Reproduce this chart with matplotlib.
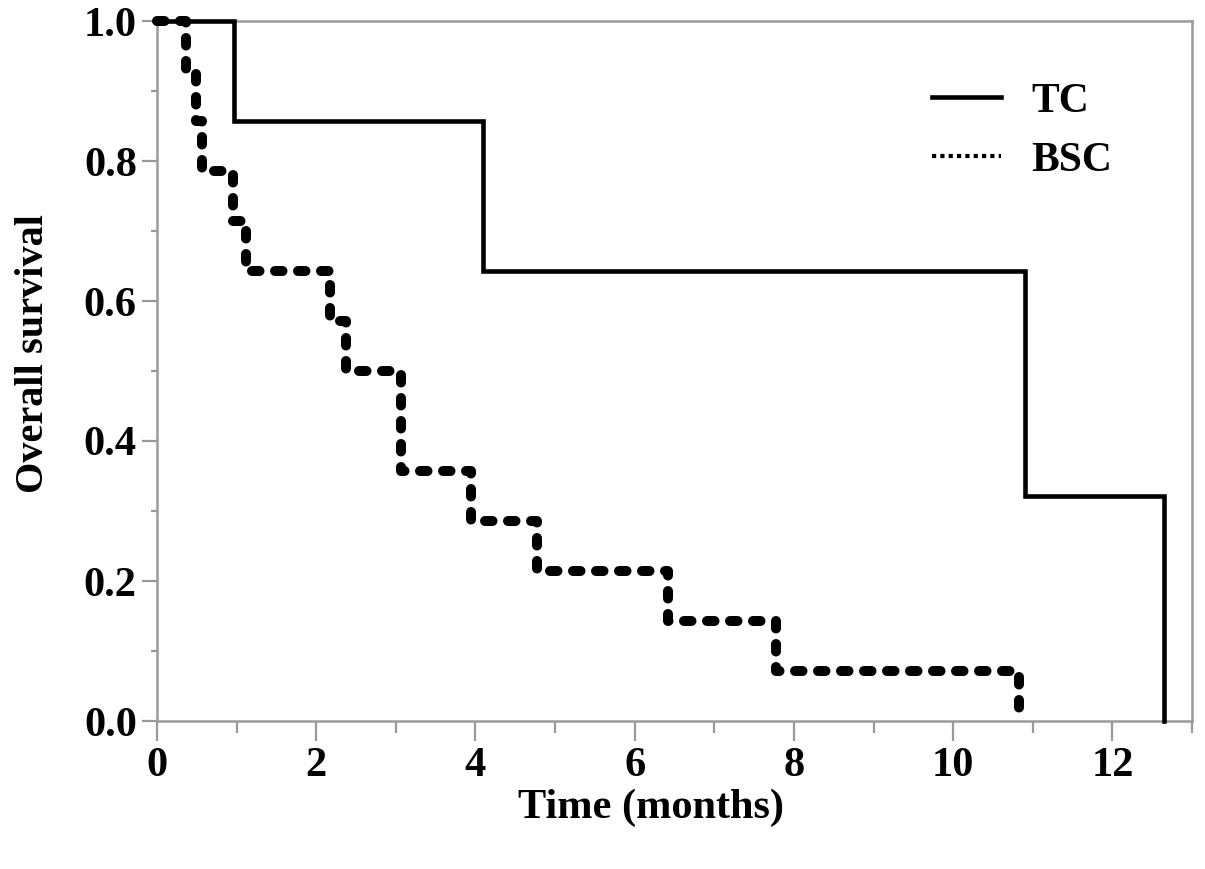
import matplotlib
matplotlib.use("Agg")
import matplotlib.pyplot as plt
from matplotlib.lines import Line2D

# Data (Kaplan-Meier step values)
tc_time = [0.0, 0.97, 4.10, 10.90, 12.65]
tc_surv = [1.0, 0.857, 0.643, 0.321, 0.0]

bsc_time = [0.0, 0.36, 0.49, 0.56, 0.95, 1.12, 2.17, 2.38, 3.06, 3.95, 4.77, 6.42, 7.77, 10.83]
bsc_surv = [1.0, 0.929, 0.857, 0.786, 0.714, 0.643, 0.571, 0.5, 0.357, 0.286, 0.214, 0.143, 0.071, 0.0]

series_labels = ["TC", "BSC"]
x_ticks = [0, 2, 4, 6, 8, 10, 12]
y_ticks = [0.0, 0.2, 0.4, 0.6, 0.8, 1.0]

plt.rcParams['font.family'] = ['Liberation Serif', 'DejaVu Serif']
plt.rcParams['font.weight'] = 'bold'

fig = plt.figure(figsize=(12.05, 8.69), dpi=100)
ax = fig.add_axes([157/1205, 1 - 721/869, (1192-157)/1205, (721-21)/869])

gray = '#9a9a9a'
fs = 30.5

ax.step(tc_time, tc_surv, where='post', color='black', lw=3.3, clip_on=False,
        solid_joinstyle='miter', zorder=3)
ln, = ax.step(bsc_time, bsc_surv, where='post', color='black', lw=7.2, clip_on=False,
              zorder=3)
ln.set_dashes((0.75, 1.55))
ln.set_dash_capstyle('round')

ax.set_xlim(0, 13)
ax.set_ylim(0, 1.0)

ax.set_xticks(x_ticks)
ax.set_xticks([1, 3, 5, 7, 9, 11, 13], minor=True)
ax.set_yticks(y_ticks)
ax.set_yticks([0.1, 0.3, 0.5, 0.7, 0.9], minor=True)
ax.set_xticklabels([str(v) for v in x_ticks])
ax.set_yticklabels([f"{v:.1f}" for v in y_ticks])

ax.tick_params(axis='x', which='major', length=14.5, width=1.6, color=gray, pad=4,
               labelsize=fs)
ax.tick_params(axis='x', which='minor', length=8.5, width=1.6, color=gray)
ax.tick_params(axis='y', which='major', length=10.5, width=1.6, color=gray, pad=4,
               labelsize=fs)
ax.tick_params(axis='y', which='minor', length=4.5, width=1.6, color=gray)
for lab in ax.get_xticklabels() + ax.get_yticklabels():
    lab.set_fontweight('bold')

for s in ax.spines.values():
    s.set_color(gray)
    s.set_linewidth(1.8)

ax.set_xlabel("Time (months)", fontsize=fs, fontweight='bold')
ax.set_ylabel("Overall survival", fontsize=29, fontweight='bold')
ax.xaxis.set_label_coords(0.477, -0.097)
ax.yaxis.set_label_coords(-0.101, 0.525)

handles = [Line2D([], [], color='black', lw=3.3),
           Line2D([], [], color='black', lw=3.0, linestyle=(0, (1, 1)))]
ax.legend(handles, series_labels, loc='upper left', bbox_to_anchor=(0.749, 0.912),
          frameon=False, handlelength=1.65, handletextpad=0.72,
          labelspacing=0.5, borderpad=0, borderaxespad=0,
          prop={'weight': 'bold', 'size': 30})

fig.savefig("out.png", dpi=100)
